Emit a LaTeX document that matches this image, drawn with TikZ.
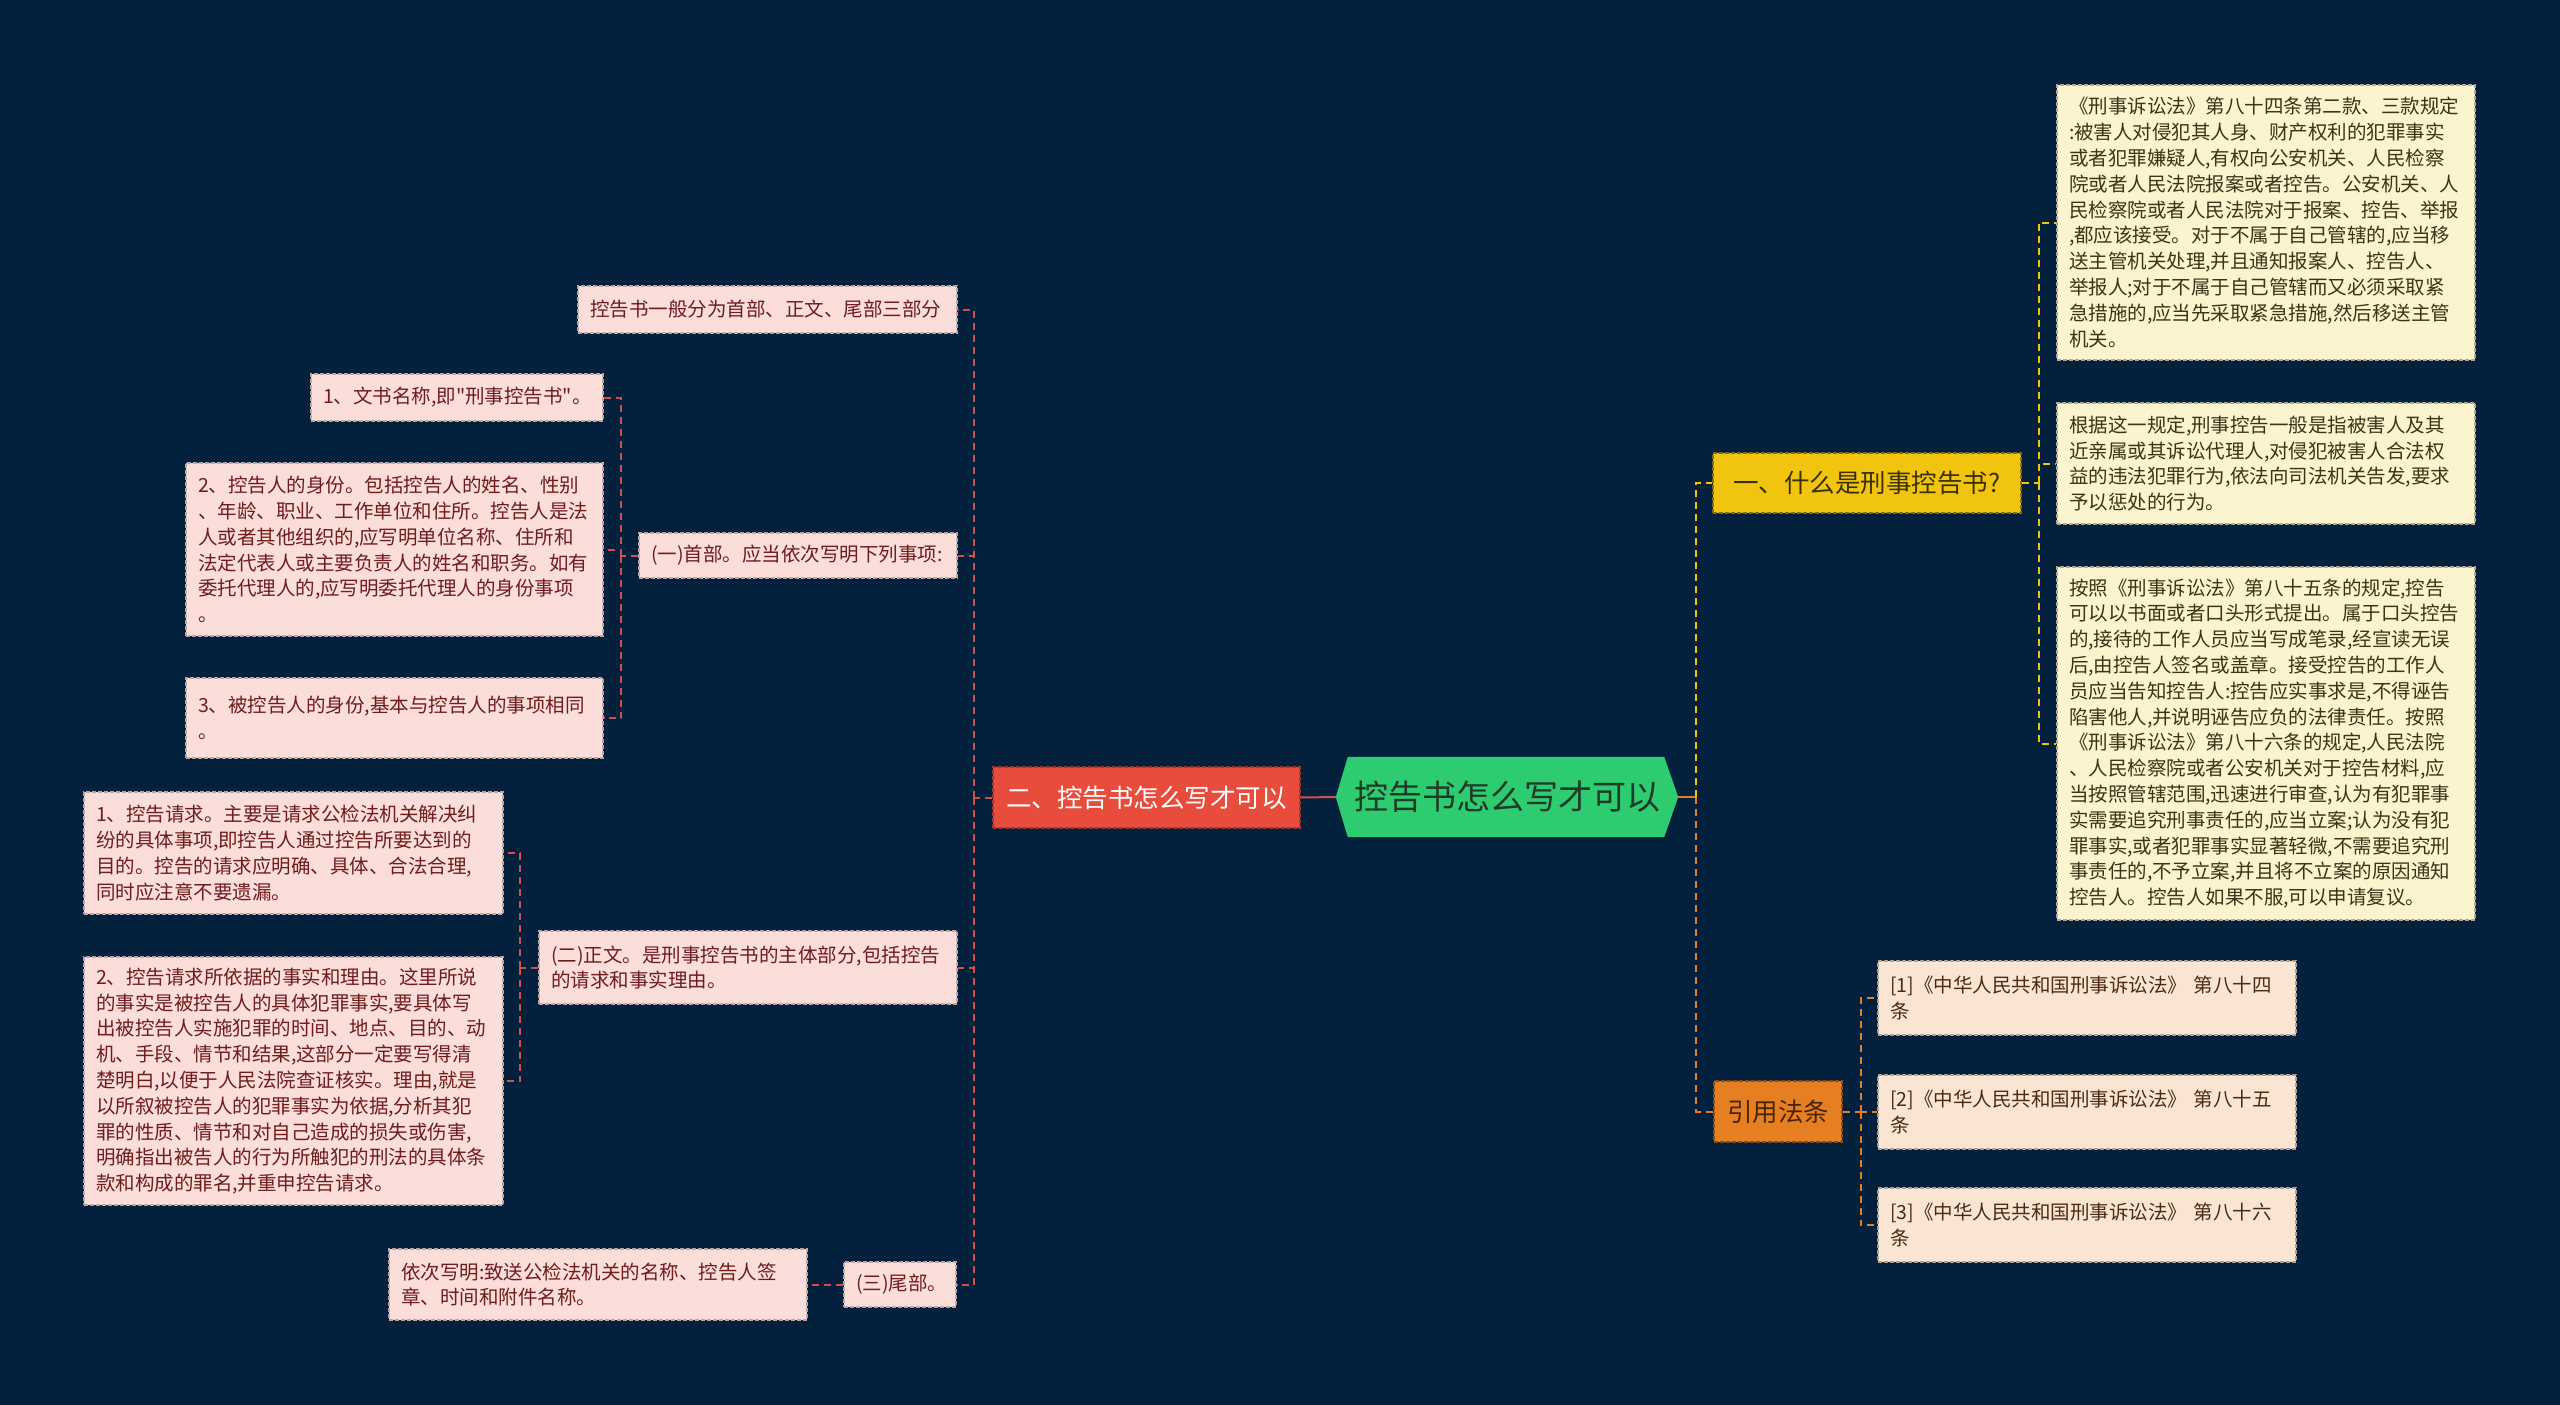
\documentclass[tikz,border=0pt]{standalone}
\usepackage{fontspec}
\setmainfont{Noto Sans CJK SC}
\newfontfamily\plainf{Noto Sans CJK SC}
\usetikzlibrary{calc}
\pgfdeclarelayer{bglayer}
\pgfsetlayers{bglayer,main}
\definecolor{bgcol}{HTML}{03203D}
\definecolor{hexfill}{HTML}{2ECC71}
\definecolor{hextext}{HTML}{1E3A28}
\definecolor{redfill}{HTML}{E74C3C}
\definecolor{yelfill}{HTML}{F1C40F}
\definecolor{yeltext}{HTML}{3A3000}
\definecolor{orafill}{HTML}{E67E22}
\definecolor{oratext}{HTML}{4A2408}
\definecolor{pinkfill}{HTML}{FBDDD9}
\definecolor{pinktext}{HTML}{6E1C1C}
\definecolor{creamfill}{HTML}{FCF3CF}
\definecolor{creamtext}{HTML}{3C3418}
\definecolor{peachfill}{HTML}{FAE5D3}
\definecolor{peachtext}{HTML}{4B2A14}
\definecolor{lred}{HTML}{D0504A}
\definecolor{lyel}{HTML}{F1C40F}
\definecolor{lora}{HTML}{E67E22}
\begin{document}
\begin{tikzpicture}[x=1pt,y=-1pt,
  box/.style={rectangle, line width=1.2pt, dash pattern=on 4pt off 2pt,
    inner xsep=12pt, inner ysep=0pt, align=left,
    font=\fontsize{19.5}{25.8}\selectfont},
  pinkbox/.style={box, fill=pinkfill, draw=pinkfill!75!black},
  creambox/.style={box, fill=creamfill, draw=creamfill!70!black},
  peachbox/.style={box, fill=peachfill, draw=peachfill!70!black},
  mainnode/.style={rectangle, line width=1.2pt, dash pattern=on 4pt off 2pt,
    inner sep=0pt, align=center, font=\fontsize{25.5}{30}\selectfont},
  redline/.style={draw=lred, line width=2pt, dash pattern=on 7pt off 5pt},
  yelline/.style={draw=lyel, line width=2pt, dash pattern=on 7pt off 5pt},
  oraline/.style={draw=lora, line width=2pt, dash pattern=on 7pt off 5pt},
]
\begin{pgfonlayer}{bglayer}
\fill[bgcol] (0,0) rectangle (2560,1405);
\end{pgfonlayer}
\useasboundingbox (0,0) rectangle (2560,1405);

% center
\node[font=\fontsize{34}{40}\selectfont, text=hextext, minimum width=342pt,
  minimum height=80pt, inner sep=0pt] (hex) at (1507,797) {控告书怎么写才可以};
\begin{pgfonlayer}{bglayer}
\fill[hexfill] (hex.west) -- ([xshift=12pt]hex.north west) -- ([xshift=-14pt]hex.north east)
  -- (hex.east) -- ([xshift=-14pt]hex.south east) -- ([xshift=12pt]hex.south west) -- cycle;
\end{pgfonlayer}

% main branches
\node[mainnode, fill=redfill, draw=redfill!70!black, text=white,
  minimum width=307pt, minimum height=61pt] (red) at (1146.5,797.5) {二、控告书怎么写才可以};
\node[mainnode, fill=yelfill, draw=yelfill!55!black, text=yeltext,
  minimum width=308pt, minimum height=60pt] (yel) at (1867,483) {一、什么是刑事控告书?};
\node[mainnode, fill=orafill, draw=orafill!60!black, text=oratext,
  minimum width=128pt, minimum height=61pt] (ora) at (1778,1111.5) {引用法条};

% left side nodes
\node[pinkbox, text=pinktext, text width=355pt, minimum height=47pt] (A) at (767.5,309.5)
  {控告书一般分为首部、正文、尾部三部分};
\node[pinkbox, text=pinktext, text width=294pt, minimum height=45pt] (B) at (798,555.5)
  {(一)首部。应当依次写明下列事项:};
\node[pinkbox, text=pinktext, text width=268pt, minimum height=47pt] (C1) at (457,397.5)
  {1、文书名称,即{\plainf "}刑事控告书{\plainf "}。};
\node[pinkbox, text=pinktext, text width=393pt, minimum height=173pt] (C2) at (394.5,549.5)
  {2、控告人的身份。包括控告人的姓名、性别\\
   、年龄、职业、工作单位和住所。控告人是法\\
   人或者其他组织的,应写明单位名称、住所和\\
   法定代表人或主要负责人的姓名和职务。如有\\
   委托代理人的,应写明委托代理人的身份事项\\
   。};
\node[pinkbox, text=pinktext, text width=393pt, minimum height=80pt] (C3) at (394.5,718)
  {3、被控告人的身份,基本与控告人的事项相同\\
   。};
\node[pinkbox, text=pinktext, text width=394pt, minimum height=73pt] (D) at (748,967.5)
  {(二)正文。是刑事控告书的主体部分,包括控告\\
   的请求和事实理由。};
\node[pinkbox, text=pinktext, text width=395pt, minimum height=122pt] (D1) at (293.5,853)
  {1、控告请求。主要是请求公检法机关解决纠\\
   纷的具体事项,即控告人通过控告所要达到的\\
   目的。控告的请求应明确、具体、合法合理,\\
   同时应注意不要遗漏。};
\node[pinkbox, text=pinktext, text width=395pt, minimum height=248pt] (D2) at (293.5,1081)
  {2、控告请求所依据的事实和理由。这里所说\\
   的事实是被控告人的具体犯罪事实,要具体写\\
   出被控告人实施犯罪的时间、地点、目的、动\\
   机、手段、情节和结果,这部分一定要写得清\\
   楚明白,以便于人民法院查证核实。理由,就是\\
   以所叙被控告人的犯罪事实为依据,分析其犯\\
   罪的性质、情节和对自己造成的损失或伤害,\\
   明确指出被告人的行为所触犯的刑法的具体条\\
   款和构成的罪名,并重申控告请求。};
\node[pinkbox, text=pinktext, text width=88pt, minimum height=45pt] (E) at (900,1284.5)
  {(三)尾部。};
\node[pinkbox, text=pinktext, text width=394pt, minimum height=71pt] (E1) at (598,1284.5)
  {依次写明:致送公检法机关的名称、控告人签\\
   章、时间和附件名称。};

% right side nodes
\node[creambox, text=creamtext, text width=394pt, minimum height=275pt] (R1) at (2266,222.5)
  {《刑事诉讼法》第八十四条第二款、三款规定\\
   :被害人对侵犯其人身、财产权利的犯罪事实\\
   或者犯罪嫌疑人,有权向公安机关、人民检察\\
   院或者人民法院报案或者控告。公安机关、人\\
   民检察院或者人民法院对于报案、控告、举报\\
   ,都应该接受。对于不属于自己管辖的,应当移\\
   送主管机关处理,并且通知报案人、控告人、\\
   举报人;对于不属于自己管辖而又必须采取紧\\
   急措施的,应当先采取紧急措施,然后移送主管\\
   机关。};
\node[creambox, text=creamtext, text width=394pt, minimum height=121pt] (R2) at (2266,463.5)
  {根据这一规定,刑事控告一般是指被害人及其\\
   近亲属或其诉讼代理人,对侵犯被害人合法权\\
   益的违法犯罪行为,依法向司法机关告发,要求\\
   予以惩处的行为。};
\node[creambox, text=creamtext, text width=394pt, minimum height=353pt] (R3) at (2266,743.5)
  {按照《刑事诉讼法》第八十五条的规定,控告\\
   可以以书面或者口头形式提出。属于口头控告\\
   的,接待的工作人员应当写成笔录,经宣读无误\\
   后,由控告人签名或盖章。接受控告的工作人\\
   员应当告知控告人:控告应实事求是,不得诬告\\
   陷害他人,并说明诬告应负的法律责任。按照\\
   《刑事诉讼法》第八十六条的规定,人民法院\\
   、人民检察院或者公安机关对于控告材料,应\\
   当按照管辖范围,迅速进行审查,认为有犯罪事\\
   实需要追究刑事责任的,应当立案;认为没有犯\\
   罪事实,或者犯罪事实显著轻微,不需要追究刑\\
   事责任的,不予立案,并且将不立案的原因通知\\
   控告人。控告人如果不服,可以申请复议。};
\node[peachbox, text=peachtext, text width=394pt, minimum height=74pt] (P1) at (2087,998)
  {[1]《中华人民共和国刑事诉讼法》 第八十四\\条};
\node[peachbox, text=peachtext, text width=394pt, minimum height=74pt] (P2) at (2087,1112)
  {[2]《中华人民共和国刑事诉讼法》 第八十五\\条};
\node[peachbox, text=peachtext, text width=394pt, minimum height=74pt] (P3) at (2087,1225)
  {[3]《中华人民共和国刑事诉讼法》 第八十六\\条};

% junctions
\coordinate (jC) at ([xshift=-18pt]red.west);
\coordinate (jB) at ([xshift=-17pt]B.west);
\coordinate (jD) at ([xshift=-18pt]D.west);
\coordinate (jR) at ([xshift=18pt]hex.east);
\coordinate (jY) at ([xshift=17pt]yel.east);
\coordinate (jO) at ([xshift=18pt]ora.east);

% connectors left
\draw[draw=lred, line width=2pt] (hex.west) -- (red.east);
\draw[redline] (red.west) -- (jC);
\draw[redline] (jC) |- (A.east);
\draw[redline] (jC) |- (B.east);
\draw[redline] (jC) |- (D.east);
\draw[redline] (jC) |- (E.east);
\draw[redline] (B.west) -- (jB);
\draw[redline] (jB) |- (C1.east);
\draw[redline] (jB) |- (C2.east);
\draw[redline] (jB) |- (C3.east);
\draw[redline] (D.west) -- (jD);
\draw[redline] (jD) |- (D1.east);
\draw[redline] (jD) |- (D2.east);
\draw[redline] (E.west) -- (E1.east);

% connectors right
\draw[draw=lora, line width=2pt] (hex.east) -- (jR);
\draw[yelline] (jR) |- (yel.west);
\draw[oraline] (jR) |- (ora.west);
\draw[yelline] (yel.east) -- (jY);
\draw[yelline] (jY) |- (R1.west);
\draw[yelline] (jY) |- (R2.west);
\draw[yelline] (jY) |- (R3.west);
\draw[oraline] (ora.east) -- (jO);
\draw[oraline] (jO) |- (P1.west);
\draw[oraline] (jO) |- (P2.west);
\draw[oraline] (jO) |- (P3.west);
\end{tikzpicture}
\end{document}
